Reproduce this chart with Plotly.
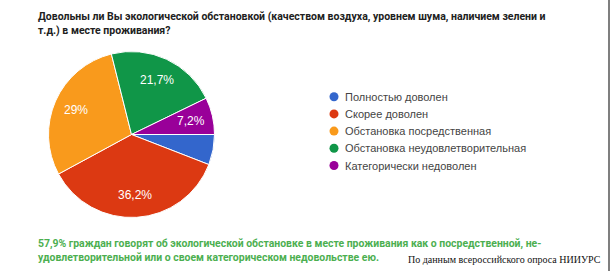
import math
import plotly.graph_objects as go

W, H = 611, 271

categories = ["Полностью доволен", "Скорее доволен", "Обстановка посредственная",
              "Обстановка неудовлетворительная", "Категорически недоволен"]
values = [5.9, 36.2, 29.0, 21.7, 7.2]
slice_labels = ["", "36,2%", "29%", "21,7%", "7,2%"]
colors = ["#3366cc", "#dc3912", "#f99a1c", "#109648", "#990099"]

title_lines = ["Довольны ли Вы экологической обстановкой (качеством воздуха, уровнем шума, наличием зелени и",
               "т.д.) в месте проживания?"]
note_lines = ["57,9% граждан говорят об экологической обстановке в месте проживания как о посредственной, не-",
              "удовлетворительной или о своем категорическом недовольстве ею."]
source_text = "По данным всероссийского опроса НИИУРС"


def px(x):
    return x / W


def py(y):
    return 1 - y / H


cx, cy, r = 131.5, 134.5, 83
start_deg = 90

fig = go.Figure()
fig.add_trace(go.Pie(
    labels=categories, values=values, sort=False, direction="clockwise", rotation=start_deg,
    marker=dict(colors=colors, line=dict(color="white", width=1)),
    textinfo="none", showlegend=False, hoverinfo="label+percent",
    domain=dict(x=[px(cx - r), px(cx + r)], y=[py(cy + r), py(cy - r)]),
))

annotations = []
shapes = []

# slice labels placed at the mid-angle of each slice (derived from the values)
total = sum(values)
cum = 0.0
for v, lab in zip(values, slice_labels):
    mid = start_deg + 360.0 * (cum + v / 2) / total
    cum += v
    if not lab:
        continue
    t = math.radians(mid)
    lx = cx + 0.73 * r * math.sin(t)
    ly = cy - 0.73 * r * math.cos(t)
    annotations.append(dict(x=px(lx), y=py(ly), xref="paper", yref="paper",
                            xanchor="center", yanchor="middle", showarrow=False, text=lab,
                            font=dict(family="Arial, Liberation Sans", size=12, color="white")))

for i, ln in enumerate(title_lines):
    annotations.append(dict(x=px(36), y=py(16.7 + 14.2 * i), xref="paper", yref="paper",
                            xanchor="left", yanchor="middle", showarrow=False, text="<b>" + ln + "</b>",
                            font=dict(family="Roboto", size=10.5, color="#212121")))
for i, ln in enumerate(note_lines):
    annotations.append(dict(x=px(36), y=py(243 + 14.3 * i), xref="paper", yref="paper",
                            xanchor="left", yanchor="middle", showarrow=False, text="<b>" + ln + "</b>",
                            font=dict(family="Roboto", size=10.45, color="#4caf50")))
annotations.append(dict(x=px(603), y=py(259), xref="paper", yref="paper",
                        xanchor="right", yanchor="middle", showarrow=False, text=source_text,
                        font=dict(family="Liberation Serif, Times New Roman", size=10, color="#111")))

leg_y0, leg_dy = 96.7, 17.2
for i, (cat, col) in enumerate(zip(categories, colors)):
    yy = leg_y0 + leg_dy * i
    shapes.append(dict(type="circle", xref="paper", yref="paper",
                       x0=px(329.5), x1=px(338.5), y0=py(yy + 4.5), y1=py(yy - 4.5),
                       fillcolor=col, line=dict(width=0)))
    annotations.append(dict(x=px(343), y=py(yy), xref="paper", yref="paper",
                            xanchor="left", yanchor="middle", showarrow=False, text=cat,
                            font=dict(family="Arial, Liberation Sans", size=11, color="#444")))

shapes.append(dict(type="line", xref="paper", yref="paper", x0=px(609), x1=px(609), y0=0, y1=1,
                   line=dict(color="#555", width=1.5)))

fig.update_layout(width=W, height=H, margin=dict(l=0, r=0, t=0, b=0),
                  paper_bgcolor="white", plot_bgcolor="white",
                  annotations=annotations, shapes=shapes)
fig.write_html("out.html")
